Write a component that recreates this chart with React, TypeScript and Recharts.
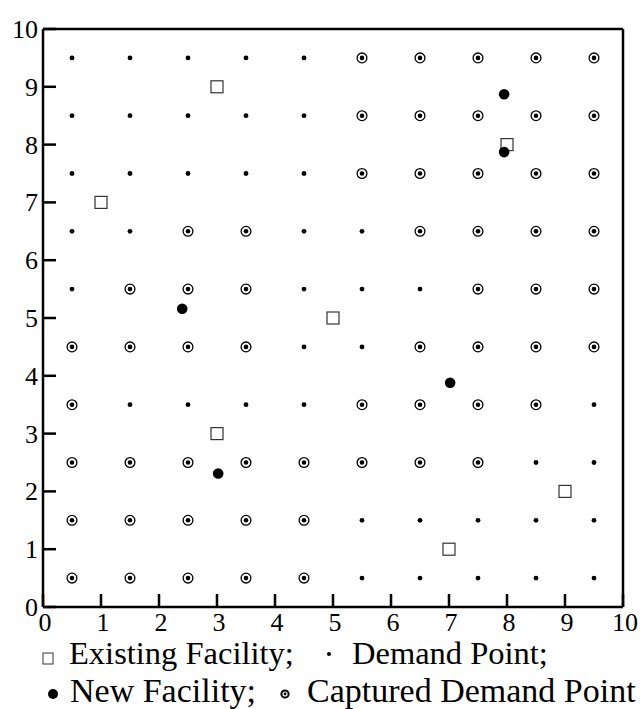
import { ScatterChart, Scatter, XAxis, YAxis } from 'recharts';

// axis ticks 0..10 on both axes
const axisTicks = [0, 1, 2, 3, 4, 5, 6, 7, 8, 9, 10];

// demand point grid (columns left->right, rows top->bottom)
const gridX = [0.5, 1.5, 2.5, 3.5, 4.5, 5.5, 6.5, 7.5, 8.5, 9.5];
const gridY = [9.5, 8.5, 7.5, 6.5, 5.5, 4.5, 3.5, 2.5, 1.5, 0.5];

// 1 = captured demand point, 0 = plain demand point
const capturedRows = [
  [0, 0, 0, 0, 0, 1, 1, 1, 1, 1],
  [0, 0, 0, 0, 0, 1, 1, 1, 1, 1],
  [0, 0, 0, 0, 0, 1, 1, 1, 1, 1],
  [0, 0, 1, 1, 0, 0, 1, 1, 1, 1],
  [0, 1, 1, 1, 0, 0, 0, 1, 1, 1],
  [1, 1, 1, 1, 0, 0, 1, 1, 1, 1],
  [1, 0, 0, 0, 0, 1, 1, 1, 1, 0],
  [1, 1, 1, 1, 1, 1, 1, 1, 0, 0],
  [1, 1, 1, 1, 1, 0, 0, 0, 0, 0],
  [1, 1, 1, 1, 1, 0, 0, 0, 0, 0],
];

const existingX = [3, 1, 8, 5, 3, 9, 7];
const existingY = [9, 7, 8, 5, 3, 2, 1];

const newX = [7.95, 7.95, 2.4, 7.02, 3.02];
const newY = [8.87, 7.87, 5.16, 3.88, 2.31];

const legendLabels = ['Existing Facility;', 'Demand Point;', 'New Facility;', 'Captured Demand Point'];

const FONT = "'Liberation Serif', 'Times New Roman', serif";
const LINE_W = 2.5;

const demandPlain: { x: number; y: number }[] = [];
const demandCaptured: { x: number; y: number }[] = [];
gridY.forEach((y, r) => {
  gridX.forEach((x, c) => {
    if (capturedRows[r][c]) demandCaptured.push({ x, y });
    else demandPlain.push({ x, y });
  });
});
const existing = existingX.map((x, i) => ({ x, y: existingY[i] }));
const newFacilities = newX.map((x, i) => ({ x, y: newY[i] }));

const DemandDot = (p: any) => <circle cx={p.cx} cy={p.cy} r={2.4} fill="#000" />;

const CapturedDot = (p: any) => (
  <g>
    <circle cx={p.cx} cy={p.cy} r={4.9} fill="#fff" stroke="#000" strokeWidth={1.3} />
    <circle cx={p.cx} cy={p.cy} r={2.3} fill="#000" />
  </g>
);

const ExistingSquare = (p: any) => (
  <rect x={p.cx - 6} y={p.cy - 6} width={12} height={12} fill="#fff" stroke="#333" strokeWidth={1.2} />
);

const NewDot = (p: any) => <circle cx={p.cx} cy={p.cy} r={5.3} fill="#000" />;

// ticks point inward, labels sit outside
const YTick = (props: any) => {
  const { x, y, payload } = props;
  return (
    <g>
      <line x1={x} y1={y} x2={x + 13} y2={y} stroke="#000" strokeWidth={LINE_W} />
      <text x={x - 5} y={y + 9} textAnchor="end" fontSize={26} fontFamily={FONT} fill="#000">
        {payload.value}
      </text>
    </g>
  );
};

const XTick = (props: any) => {
  const { x, y, payload } = props;
  return (
    <g>
      <line x1={x} y1={y} x2={x} y2={y - 13} stroke="#000" strokeWidth={LINE_W} />
      <text x={x + 2} y={y + 24} textAnchor="middle" fontSize={26} fontFamily={FONT} fill="#000">
        {payload.value}
      </text>
    </g>
  );
};

function LegendOverlay() {
  const t1 = { fontSize: 32.5, fontFamily: FONT, fill: '#000' };
  const t2 = { fontSize: 34, fontFamily: FONT, fill: '#000' };
  return (
    <svg width={642} height={709} style={{ position: 'absolute', left: 0, top: 0, pointerEvents: 'none' }}>
      <rect x={43} y={653} width={10} height={11} fill="#fff" stroke="#333" strokeWidth={1} />
      <text x={69} y={664} {...t1}>{legendLabels[0]}</text>
      <circle cx={329} cy={654} r={2} fill="#000" />
      <text x={352} y={664} {...t1}>{legendLabels[1]}</text>
      <circle cx={53} cy={694} r={5} fill="#000" />
      <text x={70} y={702} {...t2}>{legendLabels[2]}</text>
      <circle cx={285} cy={694} r={3.6} fill="none" stroke="#000" strokeWidth={2} />
      <circle cx={285} cy={694} r={1.4} fill="#000" />
      <text x={307} y={702} {...t2}>{legendLabels[3]}</text>
    </svg>
  );
}

export default function App() {
  return (
    <div style={{ position: 'absolute', left: 0, top: 0, width: 642, height: 709, background: '#fff' }}>
      <ScatterChart width={642} height={709} margin={{ top: 28, right: 18, bottom: 101, left: 0 }}>
        <XAxis
          type="number"
          dataKey="x"
          domain={[0, 10]}
          ticks={axisTicks}
          height={1}
          tickSize={0}
          tickMargin={0}
          tickLine={false}
          axisLine={{ stroke: '#000', strokeWidth: LINE_W }}
          tick={XTick}
          interval={0}
        />
        {/* top frame */}
        <XAxis
          xAxisId="top"
          orientation="top"
          type="number"
          dataKey="x"
          domain={[0, 10]}
          ticks={axisTicks}
          height={1}
          tick={false}
          tickLine={false}
          axisLine={{ stroke: '#000', strokeWidth: LINE_W }}
        />
        <YAxis
          type="number"
          dataKey="y"
          domain={[0, 10]}
          ticks={axisTicks}
          width={43}
          tickSize={0}
          tickMargin={0}
          tickLine={false}
          axisLine={{ stroke: '#000', strokeWidth: LINE_W }}
          tick={YTick}
          interval={0}
        />
        {/* right frame */}
        <YAxis
          yAxisId="right"
          orientation="right"
          type="number"
          dataKey="y"
          domain={[0, 10]}
          ticks={axisTicks}
          width={1}
          tick={false}
          tickLine={false}
          axisLine={{ stroke: '#000', strokeWidth: LINE_W }}
        />
        <Scatter data={demandPlain} shape={DemandDot} isAnimationActive={false} />
        <Scatter data={demandCaptured} shape={CapturedDot} isAnimationActive={false} />
        <Scatter data={existing} shape={ExistingSquare} isAnimationActive={false} />
        <Scatter data={newFacilities} shape={NewDot} isAnimationActive={false} />
      </ScatterChart>
      <LegendOverlay />
    </div>
  );
}
